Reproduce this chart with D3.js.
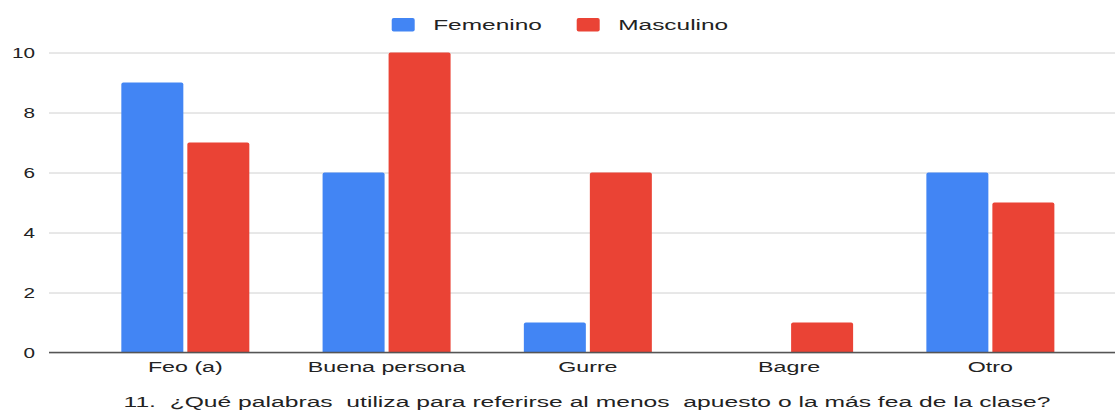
<!DOCTYPE html>
<html><head><meta charset="utf-8">
<script src="https://cdn.jsdelivr.net/npm/d3@7"></script>
<style>body{margin:0;background:#fff}svg{display:block;font-family:"Liberation Sans",Arial,sans-serif}</style>
</head><body>
<svg id="c" width="1115" height="410"></svg>
<script>
const categories = ["Feo (a)", "Buena persona", "Gurre", "Bagre", "Otro"];
const seriesNames = ["Femenino", "Masculino"];
const femenino = [9, 6, 1, 0, 6];
const masculino = [7, 10, 6, 1, 5];
const yTicks = [0, 2, 4, 6, 8, 10];
const colors = ["#4285F4", "#EA4335"];
const title = "11.  ¿Qué palabras  utiliza para referirse al menos  apuesto o la más fea de la clase?";

const values = [femenino, masculino];
const svg = d3.select("#c");
const x0 = d3.scaleBand().domain(categories).range([84.7, 1091]).paddingInner(0.364).paddingOuter(0.182);
const x1 = d3.scaleBand().domain(seriesNames).range([0, x0.bandwidth()]).paddingInner(0.0606);
const y = d3.scaleLinear().domain([0, 10]).range([352.5, 52.5]);

// stretched text helper
function stext(parent, x, yy, str, size, sx, anchor) {
  return parent.append("text")
    .attr("transform", `translate(${x},${yy}) scale(${sx},1)`)
    .attr("text-anchor", anchor).attr("font-size", size).attr("fill", "#222")
    .style("white-space", "pre").text(str);
}

// gridlines
const yAxis = d3.axisLeft(y).tickValues(yTicks).tickSize(-(1115 - 49)).tickFormat("");
const ga = svg.append("g").attr("transform", "translate(49,0)").call(yAxis);
ga.select(".domain").remove();
ga.selectAll(".tick line").attr("stroke", "#d0d0d0").attr("stroke-width", 1);
yTicks.forEach(t => stext(svg, 35, y(t) + 5, String(t), 14, 1.48, "end"));

// bars
const g = svg.append("g");
seriesNames.forEach((s, si) => {
  g.selectAll(".b" + si).data(categories.map((c, i) => ({c, v: values[si][i]})).filter(d => d.v > 0))
    .enter().append("path")
    .attr("fill", colors[si])
    .attr("d", d => {
      const x = x0(d.c) + x1(s), w = x1.bandwidth(), top = y(d.v), bot = y(0), r = 2;
      return `M${x},${bot}V${top + r}Q${x},${top} ${x + r},${top}H${x + w - r}Q${x + w},${top} ${x + w},${top + r}V${bot}Z`;
    });
});
svg.append("line").attr("x1", 49).attr("x2", 1115).attr("y1", y(0)).attr("y2", y(0)).attr("stroke", "#555").attr("stroke-width", 1.4);

// x labels
categories.forEach(c => stext(svg, x0(c) + x0.bandwidth() / 2, 372, c, 15, 1.55, "middle"));

// legend
const legX = [391.7, 576.7];
seriesNames.forEach((s, i) => {
  svg.append("rect").attr("x", legX[i]).attr("y", 18).attr("width", 23).attr("height", 13.5).attr("rx", 2).attr("fill", colors[i]);
  stext(svg, legX[i] + 41.5, 29.5, s, 15, 1.63, "start");
});

// title
stext(svg, 587, 407, title, 14.5, 1.7, "middle");
</script>
</body></html>
